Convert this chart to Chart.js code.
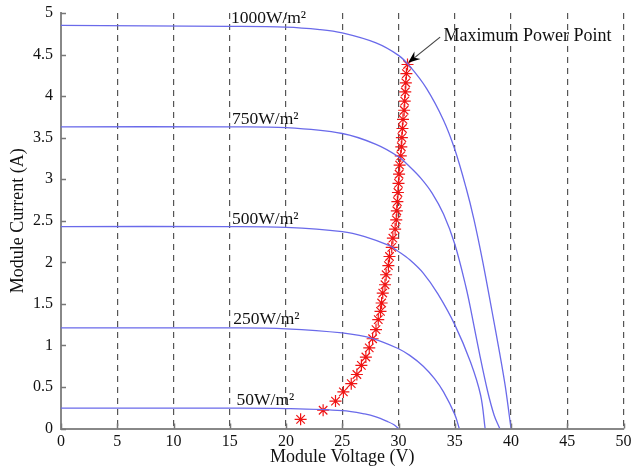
<!DOCTYPE html>
<html>
<head>
<meta charset="utf-8">
<script src="https://cdn.jsdelivr.net/npm/chart.js@4"></script>
<style>
  html, body { margin: 0; padding: 0; background: #fff; }
  #wrap { width: 633px; height: 468px; }
</style>
</head>
<body>
<div id="wrap"><canvas id="myChart" width="633" height="468"></canvas></div>
<script>
// I-V curves (voltage in V, current in A)
var v1000 = [0, 15, 20, 23, 25, 28, 30, 31, 32.5, 34, 35, 36, 36.7, 37.5, 38.3, 39, 39.5, 40];
var i1000 = [4.85, 4.84, 4.83, 4.80, 4.76, 4.64, 4.49, 4.36, 4.09, 3.71, 3.36, 2.90, 2.52, 2.00, 1.42, 0.90, 0.50, 0];

var v750 = [0, 15, 20, 25, 28, 30, 31, 32, 33, 34, 35, 36, 36.5, 37.2, 37.9, 38.5, 39];
var i750 = [3.63, 3.63, 3.62, 3.55, 3.42, 3.27, 3.15, 3.01, 2.83, 2.58, 2.22, 1.70, 1.38, 0.90, 0.46, 0.16, 0];

var v500 = [0, 15, 20, 25, 27, 29.2, 30, 31, 32.2, 33.5, 35, 36.4, 37.3, 37.7];
var i500 = [2.43, 2.43, 2.42, 2.37, 2.31, 2.20, 2.13, 2.03, 1.87, 1.62, 1.25, 0.80, 0.40, 0];

var v250 = [0, 15, 20, 25, 27.8, 30, 31, 32.2, 33.2, 34, 35, 35.4];
var i250 = [1.21, 1.21, 1.20, 1.15, 1.08, 0.96, 0.88, 0.75, 0.60, 0.44, 0.17, 0];

var v50 = [0, 15, 20, 25, 27, 28, 29, 29.6, 30];
var i50 = [0.245, 0.245, 0.24, 0.215, 0.175, 0.14, 0.085, 0.045, 0];

// maximum power points (red asterisks)
var vMpp = [21.3, 23.3, 24.4, 25.1, 25.8, 26.3, 26.7, 27.1, 27.4, 27.7, 28.0, 28.2, 28.4, 28.5, 28.6, 28.8, 28.9, 29.1, 29.2, 29.4, 29.5, 29.7, 29.8,
            29.85, 29.9, 29.95, 30.0, 30.05, 30.1, 30.2, 30.25, 30.3, 30.35, 30.4, 30.5, 30.55, 30.6, 30.65, 30.7, 30.8];
var iMpp = [0.11, 0.22, 0.33, 0.44, 0.54, 0.65, 0.76, 0.86, 0.97, 1.08, 1.19, 1.31, 1.41, 1.51, 1.63, 1.73, 1.85, 1.96, 2.07, 2.18, 2.29, 2.40, 2.51,
            2.62, 2.73, 2.84, 2.95, 3.06, 3.17, 3.28, 3.39, 3.50, 3.61, 3.72, 3.83, 3.94, 4.05, 4.16, 4.27, 4.38];

var curveLabels = ["1000W/m\u00b2", "750W/m\u00b2", "500W/m\u00b2", "250W/m\u00b2", "50W/m\u00b2"];
var xTicks = [0, 5, 10, 15, 20, 25, 30, 35, 40, 45, 50];
var yTicks = [0, 0.5, 1, 1.5, 2, 2.5, 3, 3.5, 4, 4.5, 5];

function pts(xs, ys) {
  var out = [];
  for (var k = 0; k < xs.length; k++) out.push({x: xs[k], y: ys[k]});
  return out;
}

var SERIF = "'Liberation Serif', 'DejaVu Serif', serif";
var blue = 'rgb(106, 106, 234)';

function curve(label, xs, ys) {
  return {
    label: label,
    data: pts(xs, ys),
    borderColor: blue,
    borderWidth: 1.3,
    pointRadius: 0,
    fill: false,
    tension: 0.35
  };
}

// text labels, arrow and inward tick marks
var extras = {
  id: 'extras',
  afterDatasetsDraw: function(chart) {
    var c = chart.ctx, xs = chart.scales.x, ys = chart.scales.y, a = chart.chartArea;
    c.save();
    // inward ticks
    c.strokeStyle = '#777';
    c.lineWidth = 1.5;
    c.beginPath();
    yTicks.forEach(function(t) {
      var py = Math.round(ys.getPixelForValue(t)) + 0.5;
      c.moveTo(a.left, py); c.lineTo(a.left + 5, py);
    });
    xTicks.forEach(function(t) {
      var px = Math.round(xs.getPixelForValue(t)) + 0.5;
      c.moveTo(px, a.bottom); c.lineTo(px, a.bottom - 5);
    });
    c.stroke();

    // irradiance labels
    c.fillStyle = '#111';
    c.font = '17.5px ' + SERIF;
    c.textBaseline = 'alphabetic';
    c.textAlign = 'left';
    var lx = [15.1, 15.2, 15.2, 15.3, 15.6];
    var ly = [4.88, 3.67, 2.46, 1.26, 0.28];
    curveLabels.forEach(function(t, k) {
      c.fillText(t, xs.getPixelForValue(lx[k]), ys.getPixelForValue(ly[k]));
    });

    // maximum power point arrow
    var x0 = xs.getPixelForValue(33.7), y0 = ys.getPixelForValue(4.71);
    var x1 = xs.getPixelForValue(30.85), y1 = ys.getPixelForValue(4.40);
    var ang = Math.atan2(y1 - y0, x1 - x0);
    c.strokeStyle = '#444';
    c.lineWidth = 1.2;
    c.beginPath(); c.moveTo(x0, y0); c.lineTo(x1 - 8 * Math.cos(ang), y1 - 8 * Math.sin(ang)); c.stroke();
    c.fillStyle = '#000';
    c.beginPath();
    c.moveTo(x1, y1);
    c.lineTo(x1 - 13 * Math.cos(ang - 0.38), y1 - 13 * Math.sin(ang - 0.38));
    c.lineTo(x1 - 8 * Math.cos(ang), y1 - 8 * Math.sin(ang));
    c.lineTo(x1 - 13 * Math.cos(ang + 0.38), y1 - 13 * Math.sin(ang + 0.38));
    c.closePath(); c.fill();
    c.fillStyle = '#111';
    c.font = '18px ' + SERIF;
    c.textBaseline = 'middle';
    c.fillText('Maximum Power Point', xs.getPixelForValue(34.0), ys.getPixelForValue(4.72));
    c.restore();
  }
};

var ctx = document.getElementById('myChart').getContext('2d');
var chart = new Chart(ctx, {
  type: 'line',
  data: {
    datasets: [
      curve(curveLabels[0], v1000, i1000),
      curve(curveLabels[1], v750, i750),
      curve(curveLabels[2], v500, i500),
      curve(curveLabels[3], v250, i250),
      curve(curveLabels[4], v50, i50),
      {
        label: 'MPP',
        data: pts(vMpp, iMpp),
        showLine: false,
        pointStyle: 'star',
        pointRadius: 6,
        pointBorderWidth: 1.2,
        borderColor: 'rgb(240, 20, 20)',
        backgroundColor: 'rgb(240, 20, 20)'
      }
    ]
  },
  options: {
    responsive: false,
    animation: false,
    events: [],
    layout: { padding: { top: 13, right: 9.5, left: 0, bottom: 0 } },
    plugins: { legend: { display: false }, tooltip: { enabled: false } },
    scales: {
      x: {
        type: 'linear',
        min: 0, max: 50,
        afterBuildTicks: function(s) { s.ticks = xTicks.map(function(v) { return {value: v}; }); },
        afterFit: function(s) { s.height = 39.5; s.paddingLeft = 0; s.paddingRight = 0; },
        ticks: { color: '#111', font: { family: SERIF, size: 16 }, padding: 4, maxRotation: 0 },
        grid: { color: '#555', lineWidth: 1.2, drawTicks: false },
        border: { color: '#888', width: 2, dash: [6, 5] },
        title: { display: true, text: 'Module Voltage (V)', color: '#111', font: { family: SERIF, size: 18 }, padding: { top: 0, bottom: 0 } }
      },
      y: {
        min: 0, max: 5,
        afterBuildTicks: function(s) { s.ticks = yTicks.map(function(v) { return {value: v}; }); },
        afterFit: function(s) { s.width = 61; s.paddingTop = 0; s.paddingBottom = 0; },
        ticks: {
          color: '#111', font: { family: SERIF, size: 16 }, padding: 8,
          callback: function(v) { return String(v); }
        },
        grid: { drawOnChartArea: false, drawTicks: false },
        border: { color: '#888', width: 2 },
        title: { display: true, text: 'Module Current (A)', color: '#111', font: { family: SERIF, size: 18 }, padding: { top: 7, bottom: 0 } }
      }
    }
  },
  plugins: [extras]
});
</script>
</body>
</html>
